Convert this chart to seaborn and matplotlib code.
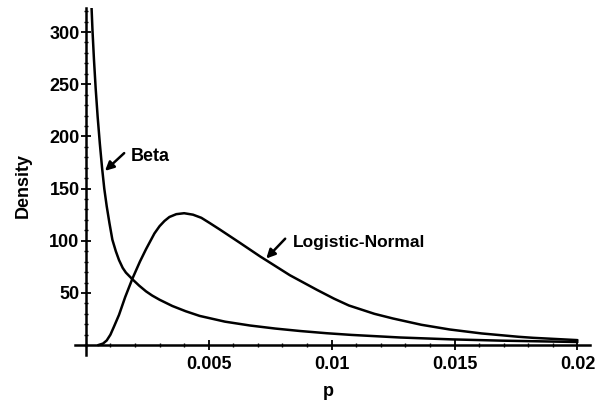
import matplotlib
matplotlib.use("Agg")
import matplotlib.pyplot as plt
from matplotlib.ticker import MultipleLocator, FixedLocator
import seaborn as sns
import pandas as pd

# Beta density curve
beta_p = [0.00023, 0.00027, 0.00033, 0.00040, 0.00048, 0.00057, 0.00066, 0.00075,
          0.00085, 0.00096, 0.00108, 0.00122, 0.00135, 0.00150, 0.00163, 0.00190,
          0.00217, 0.00245, 0.00270, 0.00300, 0.00352, 0.00406, 0.00463, 0.00566,
          0.00668, 0.00770, 0.00873, 0.0098, 0.0108, 0.0128, 0.0149, 0.0169, 0.0200]
beta_d = [325, 302, 274, 246, 219, 193, 170, 150, 133, 117, 101, 90, 81.5, 74, 69.5,
          63, 57, 51.5, 47.5, 43.5, 37.5, 32.5, 28, 22.5, 18.8, 15.9, 13.5, 11.4,
          9.8, 7.3, 5.5, 4.3, 3.0]

# Logistic-Normal density curve
ln_p = [0.0005, 0.0007, 0.00085, 0.0010, 0.00115, 0.00135, 0.0016, 0.0019, 0.0022,
        0.00245, 0.00279, 0.0030, 0.0032, 0.0034, 0.00368, 0.0040, 0.00436, 0.0047,
        0.00504, 0.00545, 0.00586, 0.00627, 0.00668, 0.00709, 0.00736, 0.0083,
        0.0094, 0.0101, 0.0107, 0.01174, 0.0125, 0.01365, 0.0148, 0.0161, 0.0176,
        0.0182, 0.0200]
ln_d = [0, 1.5, 4.5, 10, 18, 29, 46, 64, 80, 92, 107, 114, 119, 122.8, 125.5,
        126.4, 125, 122, 117, 110.8, 104.4, 98, 91.5, 85, 81, 67, 53, 44.5,
        38, 30, 25.5, 19.5, 15, 11.2, 8, 7, 4.8]

x_ticks = [0.005, 0.01, 0.015, 0.02]
x_tick_labels = ["0.005", "0.01", "0.015", "0.02"]
y_ticks = [50, 100, 150, 200, 250, 300]
y_tick_labels = ["50", "100", "150", "200", "250", "300"]

sns.set_theme(style="white")
plt.rcParams["font.family"] = ["Liberation Sans Narrow", "Liberation Sans", "DejaVu Sans"]
plt.rcParams["font.weight"] = "bold"
plt.rcParams["text.color"] = "black"

fig = plt.figure(figsize=(6.03, 4.03), dpi=100)
ax = fig.add_axes([0.124, 0.119, 0.854, 0.861])

df_beta = pd.DataFrame({"p": beta_p, "Density": beta_d})
df_ln = pd.DataFrame({"p": ln_p, "Density": ln_d})
sns.lineplot(data=df_beta, x="p", y="Density", ax=ax, color="black", lw=1.8,
             sort=False, estimator=None)
sns.lineplot(data=df_ln, x="p", y="Density", ax=ax, color="black", lw=1.8,
             sort=False, estimator=None)

ax.set_xlim(-0.00045, 0.0205)
ax.set_ylim(-9.5, 323)

for s in ["top", "right"]:
    ax.spines[s].set_visible(False)
ax.spines["left"].set_position(("data", 0))
ax.spines["bottom"].set_position(("data", 0))
for s in ["left", "bottom"]:
    ax.spines[s].set_color("black")
    ax.spines[s].set_linewidth(1.8)

ax.xaxis.set_major_locator(FixedLocator(x_ticks))
ax.set_xticklabels(x_tick_labels)
ax.yaxis.set_major_locator(FixedLocator(y_ticks))
ax.set_yticklabels(y_tick_labels)
ax.xaxis.set_minor_locator(MultipleLocator(0.001))
ax.yaxis.set_minor_locator(MultipleLocator(10))
ax.tick_params(axis="both", which="both", bottom=True, left=True, colors="black",
               labelcolor="black")
ax.tick_params(axis="both", which="major", direction="inout", length=7, width=1.3,
               labelsize=13)
ax.tick_params(axis="both", which="minor", direction="inout", length=3.5, width=1.0)
ax.tick_params(axis="x", which="major", pad=4)
ax.tick_params(axis="y", which="major", pad=1)
for lab in ax.get_xticklabels() + ax.get_yticklabels():
    lab.set_fontweight("bold")

ax.set_xlabel("")
ax.set_ylabel("")
fig.text(328 / 603, 1 - 392 / 403, "p", ha="center", va="center", fontsize=13,
         fontweight="bold", color="black")
fig.text(23 / 603, 1 - 186 / 403, "Density", ha="center", va="center", fontsize=13,
         fontweight="bold", rotation=90, color="black")

arrow = dict(arrowstyle="-|>", color="black", lw=1.8, mutation_scale=13,
             shrinkA=0, shrinkB=0)
ax.annotate("", xy=(0.00078, 167), xytext=(0.00156, 184), arrowprops=arrow)
ax.text(0.00184, 181, "Beta", fontsize=13, fontweight="bold", va="center",
        ha="left", color="black")
ax.annotate("", xy=(0.00734, 83), xytext=(0.00811, 102), arrowprops=arrow)
ax.text(0.00844, 98, "Logistic-Normal", fontsize=12.5, fontweight="bold",
        va="center", ha="left", color="black")

fig.savefig("out.png", dpi=100)
